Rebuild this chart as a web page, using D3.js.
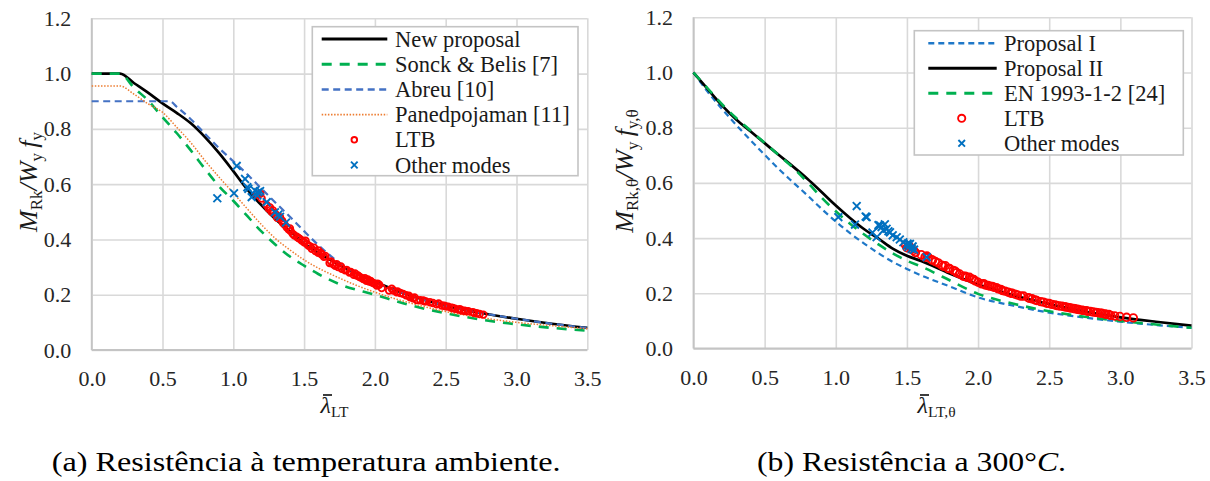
<!DOCTYPE html>
<html><head><meta charset="utf-8">
<script src="https://cdn.jsdelivr.net/npm/d3@7"></script>
</head><body style="margin:0;background:#fff">
<svg id="c" width="1210" height="481"></svg>
<script>
// ---------- tick values ----------
const xTicks=[0,0.5,1.0,1.5,2.0,2.5,3.0,3.5];
const yTicks=[0,0.2,0.4,0.6,0.8,1.0,1.2];

// ---------- panel (a): ambient temperature ----------
const aNewLam=[0,0.2,0.3,0.4,0.5,0.6,0.7,0.8,0.9,1.0,1.1,1.2,1.3,1.4,1.5,1.6,1.7,1.8,1.9,2.0,2.25,2.5,2.75,3.0,3.25,3.5];
const aNewVal=[1.0,1.0,0.965,0.93,0.892,0.858,0.82,0.77,0.712,0.647,0.58,0.523,0.472,0.43,0.385,0.352,0.322,0.295,0.27,0.247,0.197,0.16,0.134,0.113,0.095,0.08];
const aSonLam=[0,0.2,0.3,0.4,0.5,0.6,0.7,0.8,0.9,1.0,1.1,1.2,1.3,1.4,1.5,1.6,1.75,2.0,2.25,2.5,2.75,3.0,3.25,3.5];
const aSonVal=[1.0,1.0,0.948,0.902,0.842,0.785,0.722,0.655,0.592,0.54,0.484,0.428,0.38,0.338,0.305,0.275,0.238,0.2,0.162,0.133,0.11,0.093,0.08,0.07];
const aAbrLam=[0,0.55,0.6,0.7,0.8,0.9,1.0,1.1,1.2,1.3,1.4,1.5,1.6,1.7,1.8,1.9,2.0,2.25,2.5,2.75,3.0,3.25,3.5];
const aAbrVal=[0.9,0.9,0.88,0.835,0.782,0.73,0.683,0.635,0.583,0.532,0.482,0.43,0.38,0.335,0.298,0.268,0.245,0.197,0.16,0.134,0.113,0.095,0.08];
const aPanLam=[0,0.2,0.3,0.4,0.5,0.6,0.7,0.8,0.9,1.0,1.1,1.2,1.3,1.4,1.5,1.75,2.0,2.25,2.5,2.75,3.0,3.25,3.5];
const aPanVal=[0.955,0.955,0.925,0.89,0.86,0.806,0.75,0.685,0.625,0.568,0.51,0.453,0.402,0.362,0.326,0.26,0.209,0.17,0.139,0.117,0.1,0.088,0.077];
const aLtbLam=[1.165,1.19,1.2,1.235,1.25,1.259,1.271,1.3,1.33,1.345,1.36,1.377,1.39,1.405,1.42,1.448,1.46,1.483,1.5,1.52,1.542,1.554,1.58,1.6,1.624,1.65,1.68,1.706,1.72,1.74,1.766,1.79,1.82,1.85,1.871,1.89,1.918,1.94,1.96,1.977,1.99,2.013,2.03,2.048,2.119,2.13,2.154,2.18,2.2,2.22,2.248,2.27,2.295,2.32,2.342,2.36,2.389,2.41,2.436,2.472,2.49,2.518,2.54,2.566,2.59,2.613,2.64,2.66,2.69,2.719,2.766,
  1.28,1.31,1.35,1.4,1.43,1.47,1.51,1.53,1.57,1.6,1.62,1.64,1.69,1.73,1.76,1.8,1.83,1.86,1.88,1.9,1.93,1.95,1.97,2.0,2.02,2.1,2.16,2.24,2.28,2.35,2.45,2.5,2.55,2.6,2.63,2.7,2.74];
const aLtbVal=[0.562,0.565,0.548,0.525,0.512,0.516,0.5,0.49,0.48,0.468,0.455,0.444,0.437,0.43,0.42,0.41,0.405,0.396,0.39,0.383,0.375,0.366,0.358,0.352,0.345,0.34,0.315,0.31,0.305,0.3,0.294,0.288,0.28,0.272,0.269,0.265,0.257,0.25,0.248,0.245,0.242,0.233,0.236,0.224,0.222,0.215,0.209,0.206,0.203,0.198,0.191,0.187,0.181,0.18,0.179,0.176,0.173,0.17,0.165,0.161,0.16,0.157,0.153,0.149,0.146,0.143,0.141,0.14,0.137,0.133,0.128,
  0.505,0.478,0.46,0.44,0.415,0.402,0.395,0.378,0.37,0.36,0.35,0.337,0.32,0.31,0.302,0.29,0.282,0.277,0.27,0.262,0.26,0.255,0.25,0.24,0.24,0.215,0.212,0.196,0.19,0.176,0.168,0.158,0.152,0.148,0.142,0.135,0.13];
const aOthLam=[0.887,1.005,1.024,1.083,1.099,1.106,1.13,1.153,1.17,1.176,1.189,1.236,1.294,1.318,1.33,1.372];
const aOthVal=[0.549,0.567,0.666,0.619,0.589,0.583,0.553,0.577,0.559,0.571,0.575,0.535,0.498,0.49,0.482,0.461];
const aLegend=["New proposal","Sonck & Belis [7]","Abreu [10]","Panedpojaman [11]","LTB","Other modes"];

// ---------- panel (b): 300 °C ----------
const bP1Lam=[0,0.1,0.2,0.3,0.4,0.5,0.6,0.7,0.8,0.9,1.0,1.1,1.2,1.3,1.4,1.5,1.6,1.8,2.0,2.25,2.5,2.75,3.0,3.25,3.5];
const bP1Val=[1.0,0.93,0.868,0.81,0.755,0.702,0.65,0.602,0.555,0.506,0.46,0.418,0.38,0.345,0.314,0.288,0.265,0.225,0.185,0.155,0.13,0.112,0.097,0.085,0.075];
const bP2Lam=[0,0.1,0.2,0.3,0.4,0.5,0.6,0.7,0.8,0.9,1.0,1.1,1.2,1.3,1.4,1.5,1.6,1.8,2.0,2.25,2.5,2.75,3.0,3.25,3.5];
const bP2Val=[1.0,0.94,0.881,0.83,0.787,0.744,0.701,0.659,0.615,0.567,0.518,0.473,0.432,0.398,0.362,0.336,0.317,0.272,0.232,0.193,0.161,0.134,0.113,0.097,0.083];
const bEnLam=[0,0.1,0.2,0.3,0.4,0.5,0.6,0.7,0.8,0.9,1.0,1.1,1.2,1.3,1.4,1.5,1.6,1.75,2.0,2.25,2.5,2.75,3.0,3.25,3.5];
const bEnVal=[1.0,0.942,0.885,0.835,0.79,0.745,0.70,0.655,0.603,0.547,0.497,0.452,0.413,0.377,0.345,0.318,0.297,0.26,0.198,0.162,0.135,0.115,0.1,0.087,0.075];
const bLtbLam=[1.49,1.5,1.515,1.53,1.545,1.56,1.627,1.65,1.674,1.7,1.744,1.756,1.79,1.826,1.85,1.896,1.92,1.955,1.98,2.025,2.05,2.084,2.11,2.142,2.17,2.212,2.24,2.276,2.3,2.353,2.38,2.412,2.44,2.482,2.52,2.552,2.59,2.623,2.65,2.681,2.71,2.739,2.77,2.81,2.84,2.869,2.9,2.932,2.997,3.044,3.091,
  1.6,1.64,1.68,1.72,1.77,1.8,1.84,1.87,1.91,1.94,1.97,2.0,2.04,2.07,2.1,2.13,2.16,2.19,2.23,2.26,2.32,2.36,2.4,2.46,2.5,2.54,2.57,2.61,2.64,2.67,2.7,2.73,2.76,2.79,2.83,2.86,2.89,2.92,2.96];
const bLtbVal=[0.375,0.365,0.372,0.36,0.355,0.348,0.331,0.33,0.322,0.315,0.302,0.298,0.29,0.283,0.275,0.262,0.258,0.252,0.245,0.234,0.23,0.226,0.222,0.216,0.21,0.204,0.2,0.194,0.19,0.184,0.18,0.174,0.17,0.164,0.16,0.156,0.153,0.15,0.147,0.144,0.141,0.138,0.135,0.132,0.13,0.128,0.124,0.12,0.116,0.113,0.111,
  0.34,0.335,0.32,0.31,0.3,0.29,0.28,0.27,0.262,0.258,0.25,0.24,0.235,0.228,0.225,0.22,0.214,0.208,0.2,0.197,0.19,0.182,0.176,0.168,0.163,0.158,0.154,0.151,0.148,0.145,0.142,0.139,0.137,0.134,0.131,0.128,0.125,0.123,0.118];
const bOthLam=[1.018,1.135,1.147,1.21,1.217,1.258,1.287,1.3,1.311,1.322,1.334,1.345,1.357,1.37,1.381,1.4,1.428,1.45,1.475,1.498,1.505,1.51,1.521,1.533,1.54,1.55,1.639];
const bOthVal=[0.476,0.449,0.516,0.478,0.476,0.42,0.403,0.447,0.446,0.44,0.428,0.45,0.434,0.425,0.421,0.41,0.403,0.395,0.385,0.373,0.38,0.367,0.379,0.361,0.37,0.358,0.331];
const bLegend=["Proposal I","Proposal II","EN 1993-1-2 [24]","LTB","Other modes"];

// ---------- styles ----------
const FONT="Liberation Serif";
const BLACK={stroke:"#000000",width:2.7,dash:null};
const GREEN={stroke:"#00b050",width:2.6,dash:"10,8"};
const ABREU={stroke:"#4472c4",width:2.2,dash:"7,4.5"};
const PANED={stroke:"#ed7d31",width:1.5,dash:"1.5,1.6"};
const PROP1={stroke:"#1f78c8",width:2.2,dash:"6,4"};
const RED="#ff0000", XBLUE="#0070c0";

const svg=d3.select("#c").style("font-family",FONT);
svg.append("rect").attr("width",1210).attr("height",481).attr("fill","#fff");

function crossPath(cx,cy,h){return `M${cx-h},${cy-h}L${cx+h},${cy+h}M${cx-h},${cy+h}L${cx+h},${cy-h}`;}

function panel(o){
  const x=d3.scaleLinear().domain([0,3.5]).range([o.x0,o.x1]);
  const y=d3.scaleLinear().domain([0,1.2]).range([o.y0,o.y1]);
  const g=svg.append("g");
  // grid
  g.append("g").attr("transform",`translate(0,${o.y0})`)
    .call(d3.axisBottom(x).tickValues(xTicks).tickSize(-(o.y0-o.y1)).tickFormat(""))
    .call(s=>{s.select(".domain").remove();s.selectAll("line").attr("stroke","#d9d9d9").attr("stroke-width",1.6);});
  g.append("g").attr("transform",`translate(${o.x0},0)`)
    .call(d3.axisLeft(y).tickValues(yTicks).tickSize(-(o.x1-o.x0)).tickFormat(""))
    .call(s=>{s.select(".domain").remove();s.selectAll("line").attr("stroke","#d9d9d9").attr("stroke-width",1.6);});
  // axis lines
  g.append("line").attr("x1",o.x0).attr("x2",o.x1).attr("y1",o.y0).attr("y2",o.y0).attr("stroke","#c4c4c4").attr("stroke-width",1.8);
  g.append("line").attr("x1",o.x0).attr("x2",o.x0).attr("y1",o.y0).attr("y2",o.y1).attr("stroke","#c4c4c4").attr("stroke-width",1.8);
  // tick labels
  const fmt=d3.format(".1f");
  g.append("g").attr("transform",`translate(0,${o.y0})`)
    .call(d3.axisBottom(x).tickValues(xTicks).tickSize(0).tickPadding(20.5).tickFormat(fmt))
    .call(s=>{s.select(".domain").remove();s.attr("font-family",null).attr("font-size",null);
      s.selectAll("text").style("font-family",FONT).style("font-size","22px").attr("fill","#262626");});
  g.append("g").attr("transform",`translate(${o.x0},0)`)
    .call(d3.axisLeft(y).tickValues(yTicks).tickSize(0).tickPadding(20.5).tickFormat(fmt))
    .call(s=>{s.select(".domain").remove();s.attr("font-family",null).attr("font-size",null);
      s.selectAll("text").style("font-family",FONT).style("font-size","22px").attr("fill","#262626");});
  // curves
  const line=d3.line().x(d=>x(d[0])).y(d=>y(d[1])).curve(d3.curveMonotoneX);
  o.curves.forEach(c=>{
    g.append("path").datum(d3.zip(c.lam,c.val)).attr("d",line)
      .attr("fill","none").attr("stroke",c.st.stroke).attr("stroke-width",c.st.width)
      .attr("stroke-dasharray",c.st.dash).attr("stroke-linecap","butt");
  });
  // LTB circles
  g.append("g").selectAll("circle").data(d3.zip(o.ltbLam,o.ltbVal)).join("circle")
    .attr("cx",d=>x(d[0])).attr("cy",d=>y(d[1])).attr("r",o.cr)
    .attr("fill","none").attr("stroke",RED).attr("stroke-width",1.8);
  // other modes
  g.append("g").selectAll("path").data(d3.zip(o.othLam,o.othVal)).join("path")
    .attr("d",d=>crossPath(x(d[0]),y(d[1]),3.9))
    .attr("stroke",XBLUE).attr("stroke-width",1.9).attr("fill","none");
  // legend
  const L=o.legend;
  g.append("rect").attr("x",L.x).attr("y",L.y).attr("width",L.w).attr("height",L.h)
    .attr("fill","#fff").attr("stroke","#c4c4c4").attr("stroke-width",1.6);
  L.items.forEach((it,i)=>{
    const ry=L.row0+i*L.dy;
    if(it.kind==="line"){
      g.append("line").attr("x1",L.s0).attr("x2",L.s1).attr("y1",ry).attr("y2",ry)
        .attr("stroke",it.st.stroke).attr("stroke-width",it.st.width+0.3).attr("stroke-dasharray",it.st.dash);
    } else if(it.kind==="circle"){
      g.append("circle").attr("cx",L.m).attr("cy",ry).attr("r",L.lr).attr("fill","none").attr("stroke",RED).attr("stroke-width",1.9);
    } else {
      g.append("path").attr("d",crossPath(L.m,ry,3.3)).attr("stroke",XBLUE).attr("stroke-width",1.9);
    }
    g.append("text").attr("x",L.tx).attr("y",ry+7.6).style("font-family",FONT).style("font-size","22.5px").attr("fill","#1a1a1a").text(it.label);
  });
  return {x,y};
}

panel({x0:91.7,x1:587.3,y0:350,y1:18.3,cr:3.3,
  curves:[{lam:aNewLam,val:aNewVal,st:BLACK},{lam:aSonLam,val:aSonVal,st:GREEN},{lam:aAbrLam,val:aAbrVal,st:ABREU},{lam:aPanLam,val:aPanVal,st:PANED}],
  ltbLam:aLtbLam,ltbVal:aLtbVal,othLam:aOthLam,othVal:aOthVal,
  legend:{x:312.3,y:26.7,w:265.7,h:149,row0:39,dy:25.2,s0:321.7,s1:387.3,m:354.3,tx:395,lr:2.8,
    items:[{kind:"line",st:BLACK,label:aLegend[0]},{kind:"line",st:GREEN,label:aLegend[1]},{kind:"line",st:ABREU,label:aLegend[2]},{kind:"line",st:PANED,label:aLegend[3]},{kind:"circle",label:aLegend[4]},{kind:"cross",label:aLegend[5]}]}
});
panel({x0:693.5,x1:1191.5,y0:348.5,y1:17.3,cr:3.8,
  curves:[{lam:bP1Lam,val:bP1Val,st:PROP1},{lam:bP2Lam,val:bP2Val,st:BLACK},{lam:bEnLam,val:bEnVal,st:GREEN}],
  ltbLam:bLtbLam,ltbVal:bLtbVal,othLam:bOthLam,othVal:bOthVal,
  legend:{x:914.3,y:30.7,w:269,h:124.3,row0:43.3,dy:25,s0:928.3,s1:996.7,m:961.7,tx:1004,lr:3.6,
    items:[{kind:"line",st:PROP1,label:bLegend[0]},{kind:"line",st:BLACK,label:bLegend[1]},{kind:"line",st:GREEN,label:bLegend[2]},{kind:"circle",label:bLegend[3]},{kind:"cross",label:bLegend[4]}]}
});

// ---------- axis titles ----------
function richText(parent,parts,size,subSize,shift){
  let cur=0;
  parts.forEach(p=>{
    const want=p.sub?shift:0;
    parent.append("tspan").text(p.t).attr("dy",want-cur).style("font-family",FONT)
      .style("font-size",(p.sub?subSize:size)+"px").style("font-style",p.it?"italic":"normal");
    cur=want;
  });
}
function yTitle(cx,cy,parts){
  const t=svg.append("text").attr("transform",`translate(${cx},${cy}) rotate(-90)`)
    .attr("text-anchor","middle").attr("fill","#1a1a1a").style("font-family",FONT);
  richText(t,parts,26,17,5);
}
yTitle(37,182,[{t:"M",it:true},{t:"Rk",sub:true},{t:"/",it:true},{t:"W",it:true},{t:"y",sub:true},{t:"\u2009f",it:true},{t:"y",sub:true}]);
yTitle(633,171,[{t:"M",it:true},{t:"Rk,θ",sub:true},{t:"/",it:true},{t:"W",it:true},{t:"y",sub:true},{t:"\u2009f",it:true},{t:"y,θ",sub:true}]);

function xTitle(lx,base,sub){
  const t=svg.append("text").attr("x",lx).attr("y",base).attr("fill","#1a1a1a").style("font-family",FONT);
  richText(t,[{t:"λ",it:true},{t:sub,sub:true}],24,15.5,4);
  svg.append("line").attr("x1",lx+2.5).attr("x2",lx+11.5).attr("y1",base-18).attr("y2",base-18)
    .attr("stroke","#1a1a1a").attr("stroke-width",1.7);
}
xTitle(320.5,413,"LT");
xTitle(917.5,413,"LT,θ");

// ---------- captions ----------
svg.append("text").attr("x",51.7).attr("y",470.5).style("font-family",FONT).style("font-size","27px").attr("fill","#000")
  .attr("textLength",509).attr("lengthAdjust","spacingAndGlyphs")
  .text("(a) Resistência à temperatura ambiente.");
const cb=svg.append("text").attr("x",757).attr("y",470.5).style("font-family",FONT).style("font-size","27px").attr("fill","#000")
  .attr("textLength",309).attr("lengthAdjust","spacingAndGlyphs");
cb.append("tspan").text("(b) Resistência a 300°");
cb.append("tspan").style("font-style","italic").text("C");
cb.append("tspan").text(".");
</script>
</body></html>
